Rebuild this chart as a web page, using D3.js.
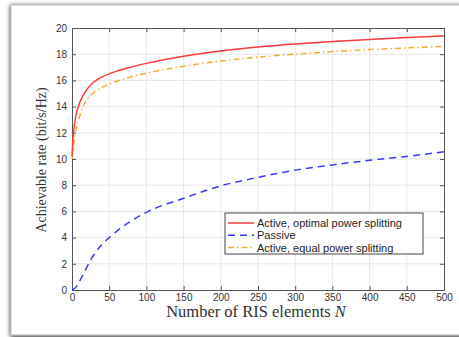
<!DOCTYPE html>
<html>
<head>
<meta charset="utf-8">
<script src="https://cdn.jsdelivr.net/npm/d3@7"></script>
<style>
  body { margin: 0; background: #fff; }
  svg { display: block; }
</style>
</head>
<body>
<div id="vis"></div>
<script>
//-- data
var nDense = [0, 1, 2, 4, 6, 10, 15, 20, 25, 30, 40, 50, 75, 100, 150, 200, 250, 300, 350, 400, 450, 500];
var activeOptimal = [10.2, 11.3, 12.0, 12.9, 13.5, 14.25, 14.85, 15.3, 15.65, 15.9, 16.25, 16.5, 16.95, 17.3, 17.85, 18.25, 18.55, 18.78, 18.97, 19.13, 19.27, 19.4];
var activeEqual = [10.0, 10.5, 11.0, 11.8, 12.4, 13.2, 14.0, 14.5, 14.85, 15.1, 15.45, 15.72, 16.2, 16.55, 17.08, 17.48, 17.78, 18.0, 18.2, 18.35, 18.48, 18.6];
var nPassive = [0, 5, 10, 15, 20, 25, 30, 40, 50, 75, 100, 150, 200, 250, 300, 350, 400, 450, 500];
var passive = [0, 0.2, 0.65, 1.2, 1.75, 2.3, 2.75, 3.45, 4.0, 5.1, 5.93, 7.0, 7.95, 8.6, 9.15, 9.55, 9.9, 10.2, 10.55];
var xTicks = [0, 50, 100, 150, 200, 250, 300, 350, 400, 450, 500];
var yTicks = [0, 2, 4, 6, 8, 10, 12, 14, 16, 18, 20];
var legendLabels = ["Active, optimal power splitting", "Passive", "Active, equal power splitting"];

var width = 459, height = 337;
var margin = { left: 72, top: 28, right: 15, bottom: 47 };

var svg = d3.select("#vis").append("svg")
  .attr("width", width)
  .attr("height", height);

// screenshot frame
var defs = svg.append("defs");
var f = defs.append("filter").attr("id", "shadow").attr("x", "-5%").attr("y", "-5%").attr("width", "110%").attr("height", "110%");
f.append("feGaussianBlur").attr("in", "SourceAlpha").attr("stdDeviation", 2);
f.append("feOffset").attr("dx", 0).attr("dy", 1).attr("result", "b");
var fm = f.append("feMerge");
fm.append("feMergeNode").attr("in", "b");
fm.append("feMergeNode").attr("in", "SourceGraphic");

svg.append("rect")
  .attr("x", 11).attr("y", 5)
  .attr("width", 470).attr("height", 330)
  .attr("fill", "#fff")
  .attr("stroke", "#b8b8b8")
  .attr("stroke-width", 1)
  .attr("filter", "url(#shadow)");

var x = d3.scaleLinear().domain([0, 500]).range([margin.left, width - margin.right]);
var y = d3.scaleLinear().domain([0, 20]).range([height - margin.bottom, margin.top]);

var x0 = x.range()[0], x1 = x.range()[1], y0 = y.range()[0], y1 = y.range()[1];

// grid
svg.append("g").selectAll("line.gx")
  .data(xTicks.slice(1, -1))
  .enter().append("line")
  .attr("x1", d => x(d)).attr("x2", d => x(d))
  .attr("y1", y1).attr("y2", y0)
  .attr("stroke", "#e6e6e6").attr("stroke-width", 1);
svg.append("g").selectAll("line.gy")
  .data(yTicks.slice(1, -1))
  .enter().append("line")
  .attr("x1", x0).attr("x2", x1)
  .attr("y1", d => y(d)).attr("y2", d => y(d))
  .attr("stroke", "#e6e6e6").attr("stroke-width", 1);

// axes
var xAxis = svg.append("g")
  .attr("transform", "translate(0," + y0 + ")")
  .call(d3.axisBottom(x).tickValues(xTicks).tickSizeInner(-4).tickSizeOuter(0).tickPadding(4));
var yAxis = svg.append("g")
  .attr("transform", "translate(" + x0 + ",0)")
  .call(d3.axisLeft(y).tickValues(yTicks).tickSizeInner(-4).tickSizeOuter(0).tickPadding(5));
var xTop = svg.append("g")
  .attr("transform", "translate(0," + y1 + ")")
  .call(d3.axisTop(x).tickValues(xTicks).tickSizeInner(-4).tickSizeOuter(0).tickFormat(""));
var yRight = svg.append("g")
  .attr("transform", "translate(" + x1 + ",0)")
  .call(d3.axisRight(y).tickValues(yTicks).tickSizeInner(-4).tickSizeOuter(0).tickFormat(""));

[xAxis, yAxis, xTop, yRight].forEach(function (a) {
  a.select(".domain").attr("stroke", "#555");
  a.selectAll(".tick line").attr("stroke", "#555");
  a.selectAll(".tick text")
    .attr("fill", "#333")
    .style("font-family", "'Liberation Sans', Arial, sans-serif")
    .style("font-size", "10px");
});

// lines
var line = d3.line()
  .x(d => x(d[0]))
  .y(d => y(d[1]))
  .curve(d3.curveMonotoneX);

var series = [
  { pts: d3.zip(nDense, activeOptimal), color: "#ff3a3a", dash: null },
  { pts: d3.zip(nPassive, passive), color: "#3a3aff", dash: "7,5" },
  { pts: d3.zip(nDense, activeEqual), color: "#f0b030", dash: "6,3,1.5,3" }
];

svg.append("g").selectAll("path")
  .data([series[1], series[2], series[0]])
  .enter().append("path")
  .attr("d", d => line(d.pts))
  .attr("fill", "none")
  .attr("stroke", d => d.color)
  .attr("stroke-width", 1.5)
  .attr("stroke-dasharray", d => d.dash);

// legend
var lg = svg.append("g").attr("transform", "translate(225,213)");
lg.append("rect")
  .attr("width", 198).attr("height", 41)
  .attr("fill", "#fff")
  .attr("stroke", "#444").attr("stroke-width", 1);
var items = lg.selectAll("g.item")
  .data(series)
  .enter().append("g")
  .attr("transform", (d, i) => "translate(0," + (10 + i * 12.3) + ")");
items.append("line")
  .attr("x1", 3).attr("x2", 29)
  .attr("stroke", d => d.color)
  .attr("stroke-width", 1.5)
  .attr("stroke-dasharray", d => d.dash);
items.append("text")
  .attr("x", 32).attr("y", 4)
  .text((d, i) => legendLabels[i])
  .attr("fill", "#222")
  .style("font-family", "'Liberation Sans', Arial, sans-serif")
  .style("font-size", "11px");

// axis labels
svg.append("text")
  .attr("x", 256).attr("y", 317)
  .attr("text-anchor", "middle")
  .attr("fill", "#333")
  .style("font-family", "'Liberation Serif', serif")
  .style("font-size", "16.5px")
  .html("Number of RIS elements <tspan font-style='italic'>N</tspan>");

svg.append("text")
  .attr("transform", "translate(46,160) rotate(-90)")
  .attr("text-anchor", "middle")
  .attr("fill", "#333")
  .style("font-family", "'Liberation Serif', serif")
  .style("font-size", "14px")
  .text("Achievable rate (bit/s/Hz)");
</script>
</body>
</html>
